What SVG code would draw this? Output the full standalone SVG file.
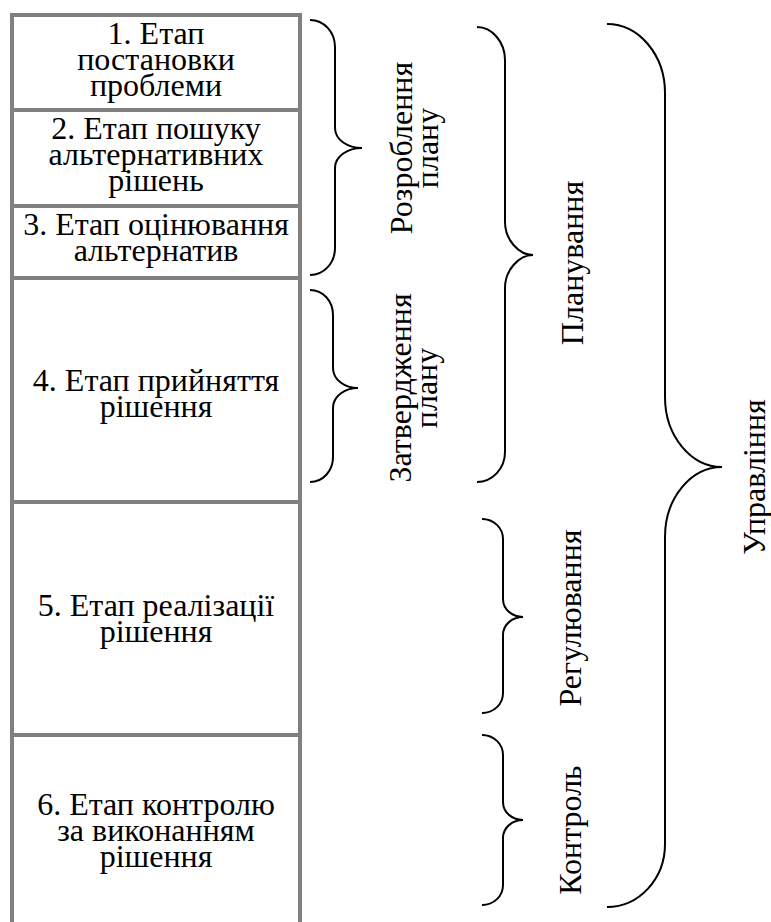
<svg xmlns="http://www.w3.org/2000/svg" width="771" height="922" viewBox="0 0 771 922">
<style>
.box{fill:#fff;stroke:#808080;stroke-width:4}
.t{font-family:'Liberation Serif','Times New Roman',serif;font-size:32px;fill:#000;text-anchor:middle}
.br{fill:none;stroke:#000;stroke-width:2}
</style>
<rect width="771" height="922" fill="#fff"/>
<g id="stage1"><rect class="box" x="12" y="15" width="288" height="95"/>
<text class="t" x="156" y="44">1. Етап</text><text class="t" x="156" y="70">постановки</text><text class="t" x="156" y="96">проблеми</text></g>
<g id="stage2"><rect class="box" x="12" y="110" width="288" height="96"/>
<text class="t" x="156" y="139">2. Етап пошуку</text><text class="t" x="156" y="165">альтернативних</text><text class="t" x="156" y="191">рішень</text></g>
<g id="stage3"><rect class="box" x="12" y="206" width="288" height="72"/>
<text class="t" x="156" y="235">3. Етап оцінювання</text><text class="t" x="156" y="261">альтернатив</text></g>
<g id="stage4"><rect class="box" x="12" y="278" width="288" height="224"/>
<text class="t" x="156" y="391">4. Етап прийняття</text><text class="t" x="156" y="417">рішення</text></g>
<g id="stage5"><rect class="box" x="12" y="502" width="288" height="233"/>
<text class="t" x="156" y="616">5. Етап реалізації</text><text class="t" x="156" y="642">рішення</text></g>
<g id="stage6"><rect class="box" x="12" y="735" width="288" height="200"/>
<text class="t" x="156" y="815">6. Етап контролю</text><text class="t" x="156" y="841">за виконанням</text><text class="t" x="156" y="867">рішення</text></g>
<g id="connectors">
<path class="br" d="M310,20 C324,20 335,32 335,47 L335,128 C335,140 348,148 362,148 C348,148 335,156 335,168 L335,248 C335,263 324,275 310,275"/>
<path class="br" d="M310,290 C323,290 333,301 333,315 L333,368 C333,380 345,388 358,388 C345,388 333,396 333,408 L333,457 C333,471 323,482 310,482"/>
<path class="br" d="M477,27 C492,27 505,42 505,60 L505,222 C505,240 519,255 533,255 C519,255 505,270 505,288 L505,452 C505,469 492,482 477,482"/>
<path class="br" d="M482,519 C494,519 503,528 503,539 L503,599 C503,610 513,617 523,617 C513,617 503,624 503,635 L503,693 C503,704 494,713 482,713"/>
<path class="br" d="M482,735 C494,735 503,744 503,755 L503,802 C503,813 513,820 523,820 C513,820 503,827 503,838 L503,885 C503,896 494,905 482,905"/>
<path class="br" d="M607,24 C639,24 665,55 665,93 L665,397 C665,436 691,467 722,467 C691,467 665,498 665,537 L665,844 C665,879 639,907 607,907"/>
</g>
<g id="label-rozroblennia"><text class="t" transform="translate(412,148) rotate(-90)">Розроблення</text><text class="t" transform="translate(438,148) rotate(-90)">плану</text></g>
<g id="label-zatverdzhennia"><text class="t" transform="translate(411,388) rotate(-90)">Затвердження</text><text class="t" transform="translate(437,388) rotate(-90)">плану</text></g>
<g id="label-planuvannia"><text class="t" transform="translate(583,263) rotate(-90)">Планування</text></g>
<g id="label-rehuliuvannia"><text class="t" transform="translate(581,618) rotate(-90)">Регулювання</text></g>
<g id="label-kontrol"><text class="t" transform="translate(581,830) rotate(-90)">Контроль</text></g>
<g id="label-upravlinnia"><text class="t" transform="translate(765,477) rotate(-90)">Управління</text></g>
</svg>
